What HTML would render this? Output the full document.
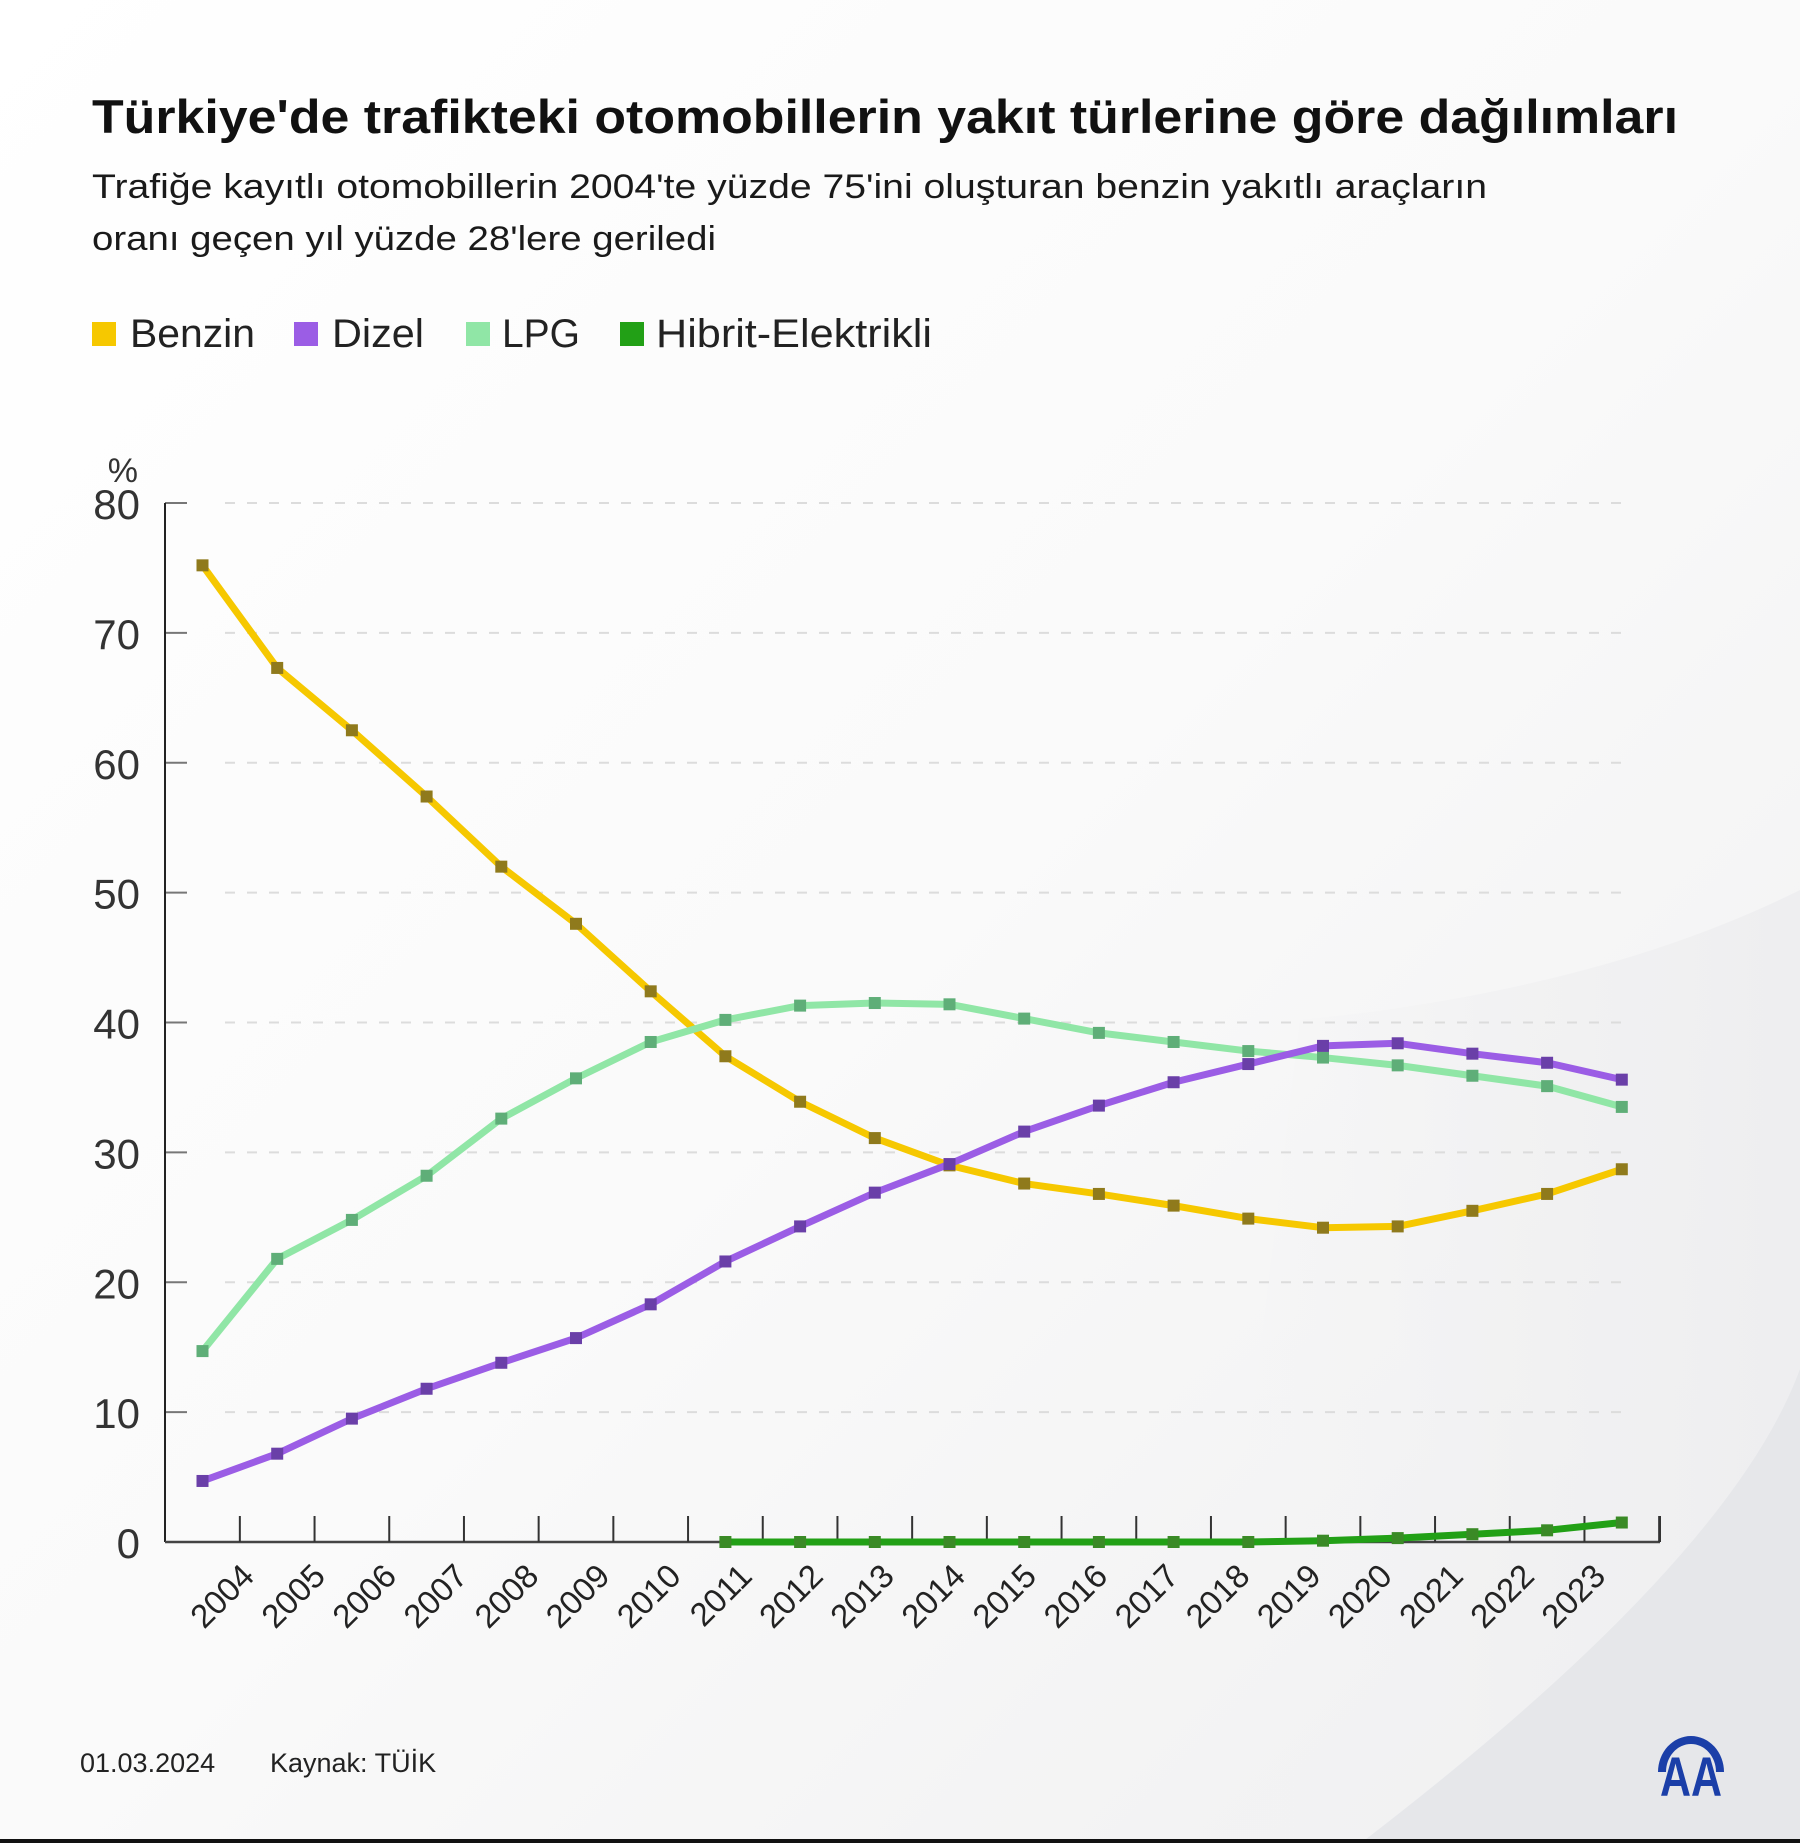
<!DOCTYPE html>
<html><head><meta charset="utf-8"><style>
html,body{margin:0;padding:0;width:1800px;height:1843px;overflow:hidden;background:#fff}
svg text{font-family:"Liberation Sans",sans-serif}
</style></head><body>
<svg id="chart" width="1800" height="1843" viewBox="0 0 1800 1843" xmlns="http://www.w3.org/2000/svg">
<defs>
<linearGradient id="bg" x1="0" y1="0" x2="1" y2="1"><stop offset="0" stop-color="#ffffff"/><stop offset="0.5" stop-color="#fafafa"/><stop offset="1" stop-color="#efeff0"/></linearGradient>
<linearGradient id="band" x1="0" y1="0" x2="1" y2="0"><stop offset="0" stop-color="#f4f4f5" stop-opacity="0"/><stop offset="0.5" stop-color="#f1f1f2" stop-opacity="0.8"/><stop offset="1" stop-color="#eeeef0"/></linearGradient>
</defs>
<rect width="1800" height="1843" fill="url(#bg)"/>
<path d="M1800 890 Q1600 990 1300 1020 L1200 1843 L1800 1843 Z" fill="url(#band)"/>
<path d="M1800 1369 Q1730 1560 1361 1843 L1800 1843 Z" fill="#e6e7ea"/>
<rect x="0" y="1839" width="1800" height="4" fill="#111"/>
<text x="92" y="133" font-size="47" font-weight="bold" fill="#111" textLength="1586" lengthAdjust="spacingAndGlyphs">Türkiye'de trafikteki otomobillerin yakıt türlerine göre dağılımları</text>
<text x="92" y="198" font-size="34" fill="#1a1a1a" textLength="1395" lengthAdjust="spacingAndGlyphs">Trafiğe kayıtlı otomobillerin 2004'te yüzde 75'ini oluşturan benzin yakıtlı araçların</text>
<text x="92" y="250" font-size="34" fill="#1a1a1a" textLength="624" lengthAdjust="spacingAndGlyphs">oranı geçen yıl yüzde 28'lere geriledi</text>
<g font-size="40" fill="#222">
<g><rect x="92" y="322" width="24" height="24" fill="#f6c800"/><text x="130" y="347" textLength="125" lengthAdjust="spacingAndGlyphs">Benzin</text></g>
<g><rect x="294" y="322" width="24" height="24" fill="#9b5de5"/><text x="332" y="347" textLength="92" lengthAdjust="spacingAndGlyphs">Dizel</text></g>
<g><rect x="466" y="322" width="24" height="24" fill="#90e6a6"/><text x="502" y="347" textLength="78" lengthAdjust="spacingAndGlyphs">LPG</text></g>
<g><rect x="620" y="322" width="24" height="24" fill="#22a016"/><text x="656" y="347" textLength="276" lengthAdjust="spacingAndGlyphs">Hibrit-Elektrikli</text></g>
</g>
<text x="138" y="482" font-size="34" fill="#333" text-anchor="end">%</text>
<g id="grid"></g>
<g id="yaxis"></g>
<g id="xaxis"></g>
<g id="series"></g>
<text x="80" y="1772" font-size="27" fill="#222">01.03.2024</text>
<text x="270" y="1772" font-size="27" fill="#222">Kaynak: TÜİK</text>
<g fill="#1b3fa8">
<path d="M1658 1772 A33 36 0 0 1 1724 1772 L1716 1772 A25 28 0 0 0 1666 1772 Z"/>
<text x="1691" y="1796" font-size="56" font-weight="bold" text-anchor="middle" textLength="62" lengthAdjust="spacingAndGlyphs">AA</text>
</g>
</svg>
<script>
const years = ["2004","2005","2006","2007","2008","2009","2010","2011","2012","2013","2014","2015","2016","2017","2018","2019","2020","2021","2022","2023"];
const yTicks = [0,10,20,30,40,50,60,70,80];
const benzin = [75.2,67.3,62.5,57.4,52.0,47.6,42.4,37.4,33.9,31.1,29.0,27.6,26.8,25.9,24.9,24.2,24.3,25.5,26.8,28.7];
const dizel = [4.7,6.8,9.5,11.8,13.8,15.7,18.3,21.6,24.3,26.9,29.1,31.6,33.6,35.4,36.8,38.2,38.4,37.6,36.9,35.6];
const lpg = [14.7,21.8,24.8,28.2,32.6,35.7,38.5,40.2,41.3,41.5,41.4,40.3,39.2,38.5,37.8,37.3,36.7,35.9,35.1,33.5];
const hibrit = [null,null,null,null,null,null,null,0,0,0,0,0,0,0,0,0.1,0.3,0.6,0.9,1.5];

const NS="http://www.w3.org/2000/svg";
const X0=165, X1=1660, Y0=1542, Y80=503, firstX=202.5, stepX=74.7;
const xs=i=>firstX+i*stepX;
const ys=v=>Y0-(v/80)*(Y0-Y80);
function mk(tag,attrs,parent){const e=document.createElementNS(NS,tag);for(const k in attrs)e.setAttribute(k,attrs[k]);parent.appendChild(e);return e;}
const grid=document.getElementById('grid'),ya=document.getElementById('yaxis'),xa=document.getElementById('xaxis'),ser=document.getElementById('series');
yTicks.forEach(t=>{
  const y=ys(t);
  if(t>0){const g=mk('line',{x1:X0+60,x2:1625,y1:y,y2:y,stroke:'#dcdcdc','stroke-width':2,'stroke-dasharray':'10 12'},grid);
  
  
  const tk=mk('line',{x1:X0,x2:X0+22,y1:y,y2:y,stroke:'#777','stroke-width':2},ya);
  
  }
  const tx=mk('text',{x:140,y:y+16,'font-size':42,fill:'#333','text-anchor':'end'},ya);
  tx.textContent=t;
  
  
});
const al=mk('line',{x1:X0,x2:X0,y1:Y80,y2:Y0,stroke:'#222','stroke-width':2},ya);


const bl=mk('line',{x1:X0,x2:X1,y1:Y0,y2:Y0,stroke:'#444','stroke-width':2.5},xa);


years.forEach((yr,i)=>{
  const tx0=xs(i)+stepX/2;
  const tk=mk('line',{x1:tx0,x2:tx0,y1:Y0-26,y2:Y0,stroke:'#333','stroke-width':2},xa);
  
  
  const lx=256+(xs(i)-firstX)*0.952, ly=Y0+36;
  const t=mk('text',{x:lx,y:ly,'font-size':33,fill:'#222','text-anchor':'end',transform:`rotate(-45 ${lx} ${ly})`},xa);
  t.textContent=yr;
  
  
});
const lastTk=mk('line',{x1:X1,x2:X1,y1:Y0-26,y2:Y0,stroke:'#333','stroke-width':2},xa);


function draw(arr,name,color,mcolor){
  const g=mk('g',{},ser);
  
  
  const pts=[];arr.forEach((v,i)=>{if(v!==null)pts.push([xs(i),ys(v)]);});
  const p=mk('polyline',{points:pts.map(p=>p.join(',')).join(' '),fill:'none',stroke:color,'stroke-width':7,'stroke-linejoin':'round'},g);
  
  
  pts.forEach(q=>{const r=mk('rect',{x:q[0]-6,y:q[1]-6,width:12,height:12,fill:mcolor},g);
    
    });
}
draw(benzin,'benzin','#f6c800','#8f7a1c');
draw(lpg,'lpg','#90e6a6','#5fae78');
draw(dizel,'dizel','#9b5de5','#6a3fa8');
draw(hibrit,'hibrit','#22a016','#3a8a26');
</script>
</body></html>
